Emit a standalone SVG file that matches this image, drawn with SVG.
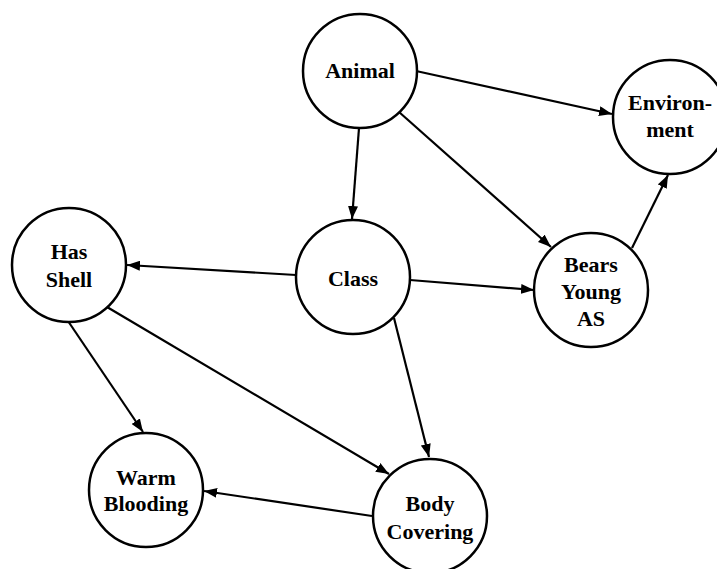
<svg xmlns="http://www.w3.org/2000/svg" width="717" height="569" viewBox="0 0 717 569">
  <style>
    .node circle { fill: #fff; stroke: #000; stroke-width: 2.5; }
    .node text { font-family: "Liberation Serif", "Times New Roman", serif; font-weight: bold; font-size: 22px; fill: #000; text-anchor: middle; }
    .edge { stroke: #000; stroke-width: 2.2; fill: none; marker-end: url(#arrow); }
  </style>
  <defs>
    <marker id="arrow" markerUnits="userSpaceOnUse" markerWidth="14" markerHeight="10" refX="13" refY="5" orient="auto">
      <path d="M0,0 L13,5 L0,10 Z" fill="#000"/>
    </marker>
  </defs>
  <rect width="717" height="569" fill="#fff"/>

  <!-- connectors -->
  <g id="edges">
    <line class="edge" x1="416" y1="71" x2="612" y2="114"/>
    <line class="edge" x1="359" y1="128" x2="352" y2="219"/>
    <line class="edge" x1="399" y1="112" x2="551" y2="247"/>
    <line class="edge" x1="632" y1="248" x2="668" y2="175"/>
    <line class="edge" x1="296" y1="275" x2="127" y2="265"/>
    <line class="edge" x1="410" y1="280" x2="534" y2="290"/>
    <line class="edge" x1="394" y1="318" x2="429" y2="457"/>
    <line class="edge" x1="68" y1="321" x2="143" y2="432"/>
    <line class="edge" x1="107" y1="307" x2="389" y2="474"/>
    <line class="edge" x1="372" y1="516" x2="204" y2="491"/>
  </g>

  <!-- nodes -->
  <g id="animal" class="node">
    <circle cx="360" cy="71" r="57"/>
    <text x="360" y="78">Animal</text>
  </g>
  <g id="environment" class="node">
    <circle cx="670" cy="117" r="57"/>
    <text x="670" y="110">Environ-</text>
    <text x="670" y="137">ment</text>
  </g>
  <g id="class" class="node">
    <circle cx="353" cy="277" r="57"/>
    <text x="353" y="286">Class</text>
  </g>
  <g id="has-shell" class="node">
    <circle cx="69" cy="265" r="57"/>
    <text x="69" y="259">Has</text>
    <text x="69" y="287">Shell</text>
  </g>
  <g id="bears-young" class="node">
    <circle cx="591" cy="290" r="57"/>
    <text x="591" y="272">Bears</text>
    <text x="591" y="299">Young</text>
    <text x="591" y="326">AS</text>
  </g>
  <g id="warm-blooding" class="node">
    <circle cx="146" cy="490" r="57"/>
    <text x="146" y="485">Warm</text>
    <text x="146" y="511">Blooding</text>
  </g>
  <g id="body-covering" class="node">
    <circle cx="430" cy="516" r="57"/>
    <text x="430" y="511">Body</text>
    <text x="430" y="539">Covering</text>
  </g>
</svg>
